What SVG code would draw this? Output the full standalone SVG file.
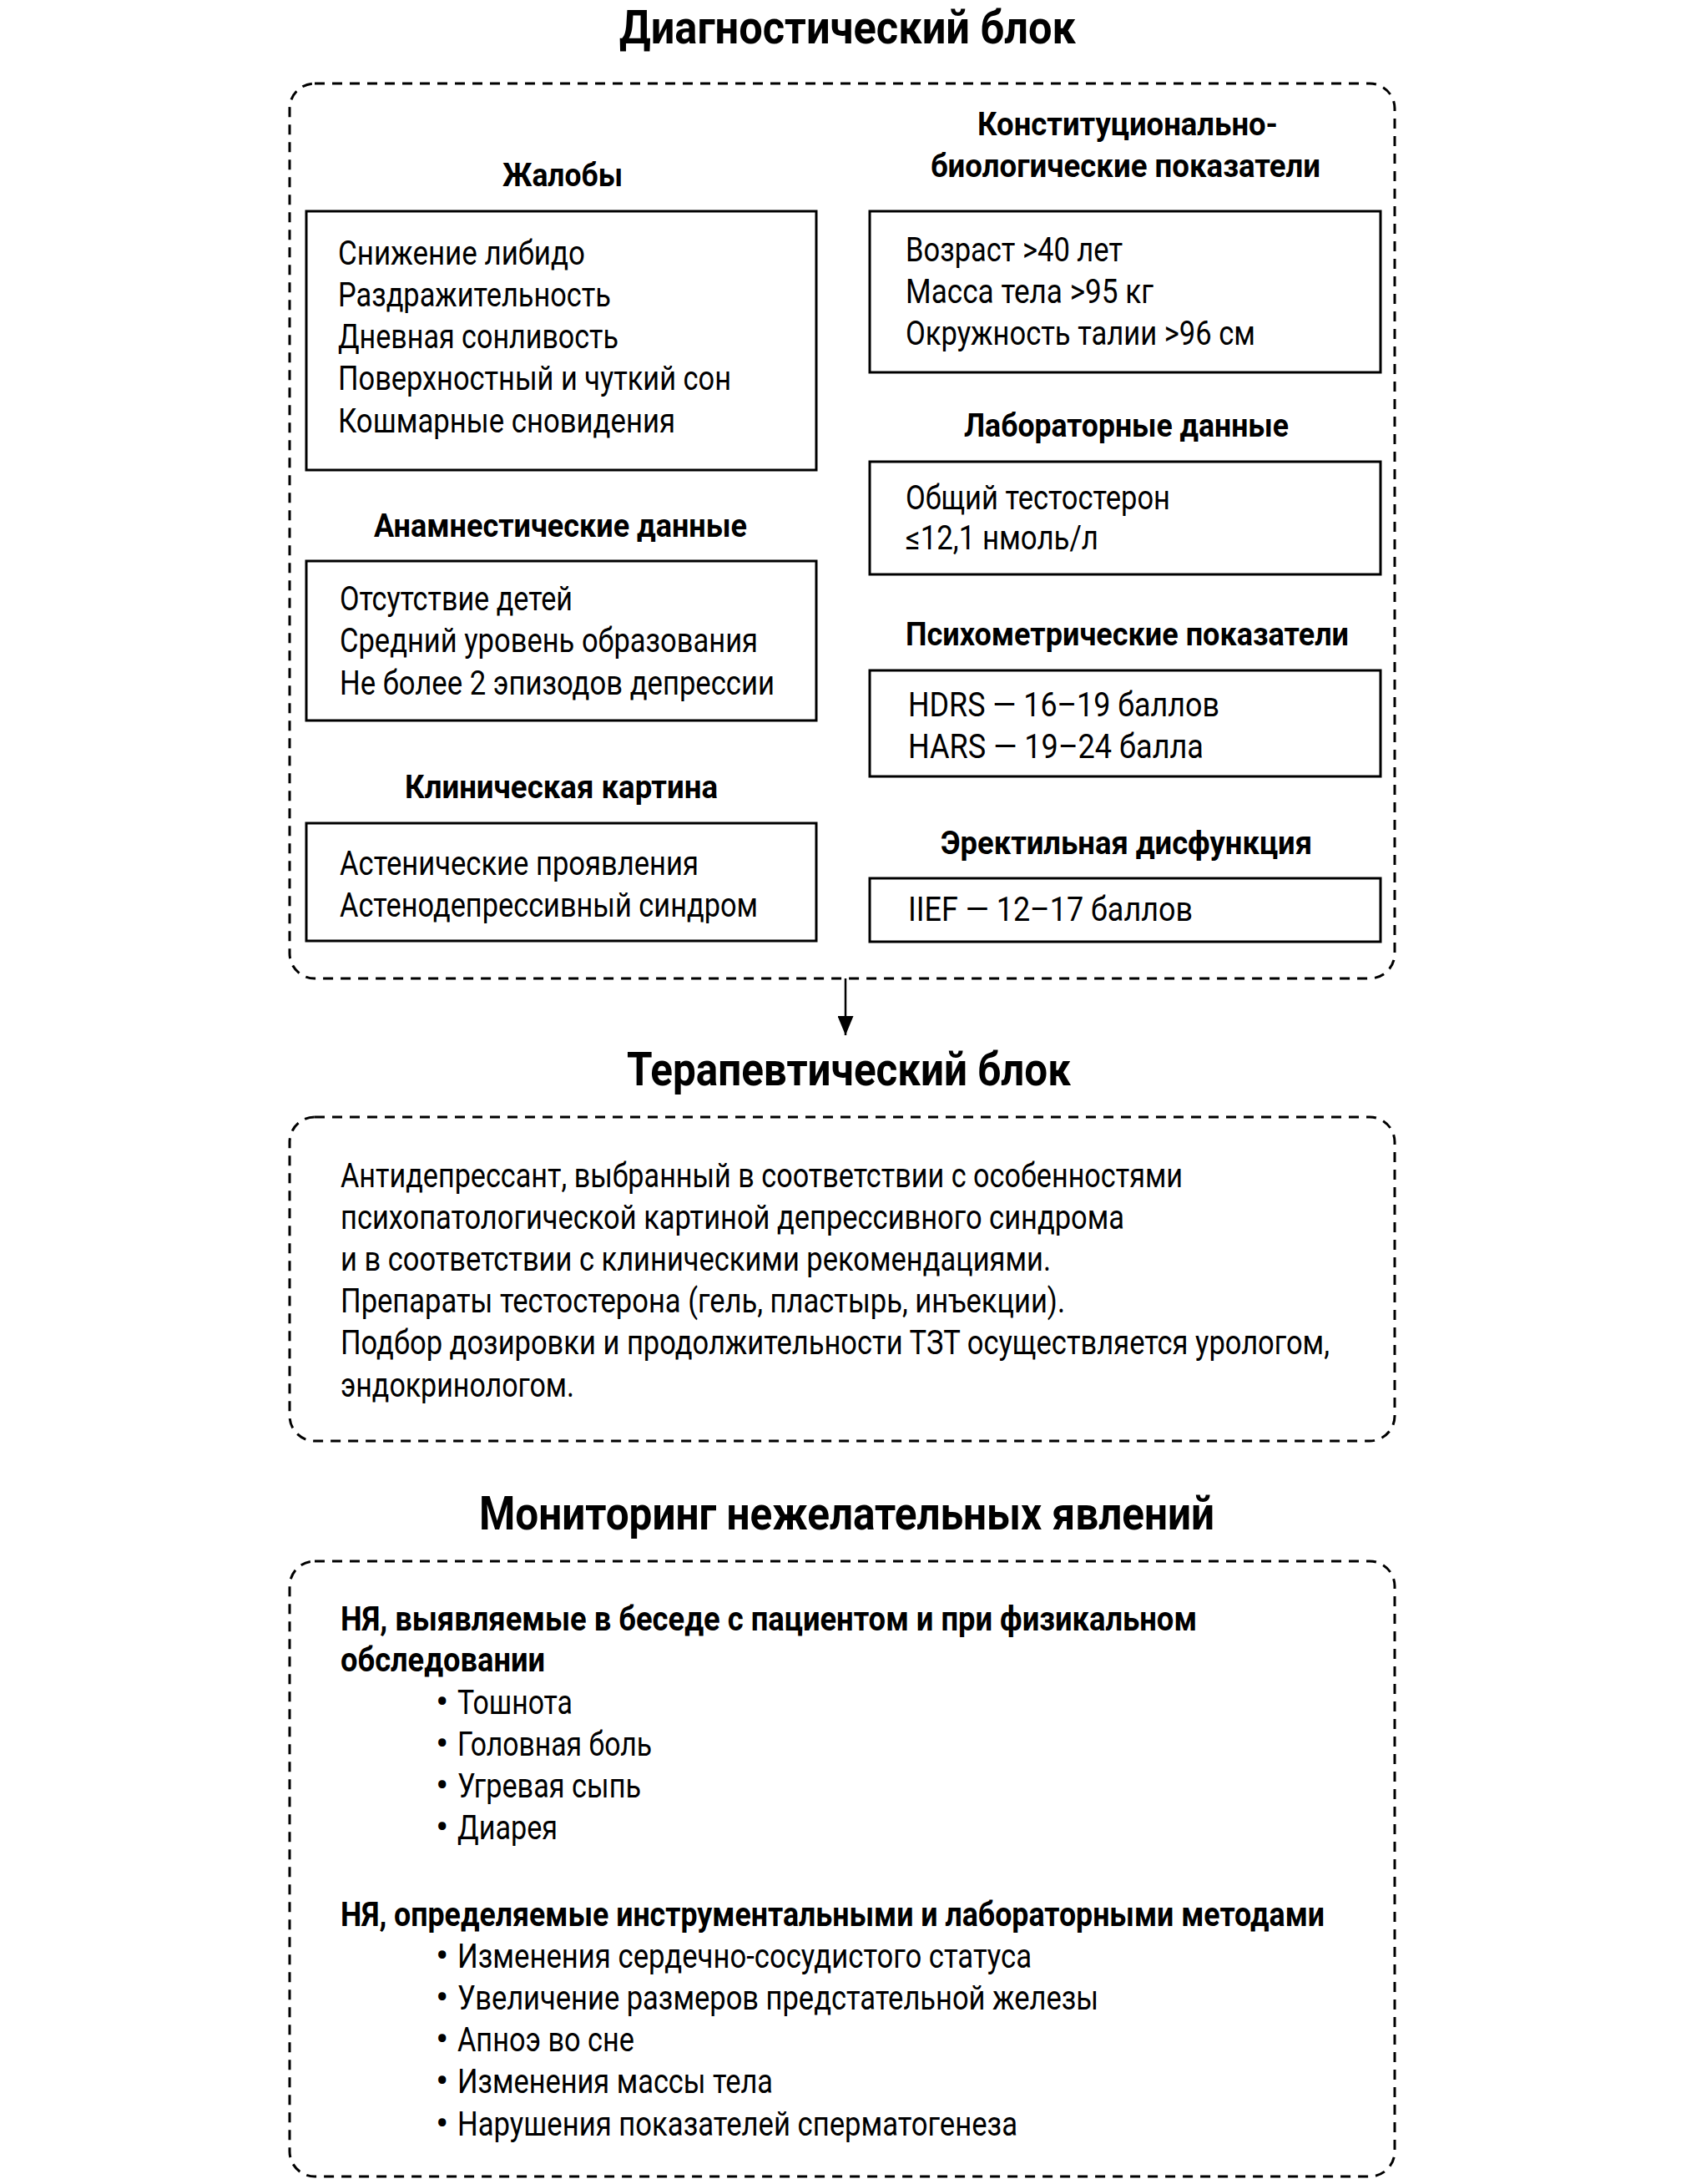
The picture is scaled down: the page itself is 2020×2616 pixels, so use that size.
<svg xmlns="http://www.w3.org/2000/svg" width="2020" height="2616" viewBox="0 0 2020 2616">
<style>
.title{font-family:Roboto,"Liberation Sans",sans-serif;font-weight:700;font-size:56px;fill:#000}
.hdr{font-family:Roboto,"Liberation Sans",sans-serif;font-weight:700;font-size:38px;fill:#000}
.hdr2{font-family:Roboto,"Liberation Sans",sans-serif;font-weight:700;font-size:40px;fill:#000}
.txt{font-family:Roboto,"Liberation Sans",sans-serif;font-weight:400;font-size:40px;fill:#000}
.bul{font-family:Roboto,"Liberation Sans",sans-serif;font-weight:400;font-size:46px;fill:#000}
.dash{fill:none;stroke:#000;stroke-width:3;stroke-dasharray:12 9}
.box{fill:none;stroke:#000;stroke-width:3}
.conn{stroke:#000;stroke-width:2.5;fill:none}
</style>
<defs>
<marker id="arr" markerWidth="23" markerHeight="19" refX="23" refY="9.5" orient="auto" markerUnits="userSpaceOnUse" viewBox="0 0 23 19">
<path d="M0,0 L23,9.5 L0,19 Z" fill="#000"/>
</marker>
</defs>

<g id="diagnostic-block">
<text class="title" x="742" y="52" textLength="547" lengthAdjust="spacingAndGlyphs">Диагностический блок</text>
<rect class="dash" x="347" y="100" width="1324" height="1072" rx="30"/>
</g>

<g id="complaints">
<text class="hdr" x="602" y="223" textLength="144" lengthAdjust="spacingAndGlyphs">Жалобы</text>
<rect class="box" x="367" y="253" width="611" height="310"/>
<text class="txt" x="405" y="317" textLength="296" lengthAdjust="spacingAndGlyphs">Снижение либидо</text>
<text class="txt" x="405" y="367" textLength="327" lengthAdjust="spacingAndGlyphs">Раздражительность</text>
<text class="txt" x="405" y="417" textLength="336" lengthAdjust="spacingAndGlyphs">Дневная сонливость</text>
<text class="txt" x="405" y="467" textLength="471" lengthAdjust="spacingAndGlyphs">Поверхностный и чуткий сон</text>
<text class="txt" x="405" y="518" textLength="404" lengthAdjust="spacingAndGlyphs">Кошмарные сновидения</text>
</g>

<g id="anamnesis">
<text class="hdr" x="448" y="643" textLength="447" lengthAdjust="spacingAndGlyphs">Анамнестические данные</text>
<rect class="box" x="367" y="672" width="611" height="191"/>
<text class="txt" x="407" y="731" textLength="279" lengthAdjust="spacingAndGlyphs">Отсутствие детей</text>
<text class="txt" x="407" y="781" textLength="501" lengthAdjust="spacingAndGlyphs">Средний уровень образования</text>
<text class="txt" x="407" y="832" textLength="521" lengthAdjust="spacingAndGlyphs">Не более 2 эпизодов депрессии</text>
</g>

<g id="clinical">
<text class="hdr" x="485" y="956" textLength="375" lengthAdjust="spacingAndGlyphs">Клиническая картина</text>
<rect class="box" x="367" y="986" width="611" height="141"/>
<text class="txt" x="407" y="1048" textLength="430" lengthAdjust="spacingAndGlyphs">Астенические проявления</text>
<text class="txt" x="407" y="1098" textLength="501" lengthAdjust="spacingAndGlyphs">Астенодепрессивный синдром</text>
</g>

<g id="constitutional">
<text class="hdr" x="1171" y="162" textLength="360" lengthAdjust="spacingAndGlyphs">Конституционально-</text>
<text class="hdr" x="1115" y="212" textLength="467" lengthAdjust="spacingAndGlyphs">биологические показатели</text>
<rect class="box" x="1042" y="253" width="612" height="193"/>
<text class="txt" x="1085" y="313" textLength="260" lengthAdjust="spacingAndGlyphs">Возраст &gt;40 лет</text>
<text class="txt" x="1085" y="363" textLength="297" lengthAdjust="spacingAndGlyphs">Масса тела &gt;95 кг</text>
<text class="txt" x="1085" y="413" textLength="419" lengthAdjust="spacingAndGlyphs">Окружность талии &gt;96 см</text>
</g>

<g id="laboratory">
<text class="hdr" x="1155" y="523" textLength="389" lengthAdjust="spacingAndGlyphs">Лабораторные данные</text>
<rect class="box" x="1042" y="553" width="612" height="135"/>
<text class="txt" x="1085" y="610" textLength="317" lengthAdjust="spacingAndGlyphs">Общий тестостерон</text>
<text class="txt" x="1085" y="658" textLength="231" lengthAdjust="spacingAndGlyphs">≤12,1 нмоль/л</text>
</g>

<g id="psychometric">
<text class="hdr" x="1085" y="773" textLength="531" lengthAdjust="spacingAndGlyphs">Психометрические показатели</text>
<rect class="box" x="1042" y="803" width="612" height="127"/>
<text class="txt" x="1088" y="858" textLength="373" lengthAdjust="spacingAndGlyphs">HDRS — 16–19 баллов</text>
<text class="txt" x="1088" y="908" textLength="354" lengthAdjust="spacingAndGlyphs">HARS — 19–24 балла</text>
</g>

<g id="erectile">
<text class="hdr" x="1127" y="1023" textLength="445" lengthAdjust="spacingAndGlyphs">Эректильная дисфункция</text>
<rect class="box" x="1042" y="1052" width="612" height="76"/>
<text class="txt" x="1088" y="1103" textLength="341" lengthAdjust="spacingAndGlyphs">IIEF — 12–17 баллов</text>
</g>

<g id="connectors">
<line class="conn" x1="1013" y1="1172" x2="1013" y2="1240" marker-end="url(#arr)"/>
</g>

<g id="therapeutic-block">
<text class="title" x="751" y="1300" textLength="532" lengthAdjust="spacingAndGlyphs">Терапевтический блок</text>
<rect class="dash" x="347" y="1338" width="1324" height="388" rx="30"/>
<text class="txt" x="408" y="1422" textLength="1009" lengthAdjust="spacingAndGlyphs">Антидепрессант, выбранный в соответствии с особенностями</text>
<text class="txt" x="408" y="1472" textLength="939" lengthAdjust="spacingAndGlyphs">психопатологической картиной депрессивного синдрома</text>
<text class="txt" x="408" y="1522" textLength="851" lengthAdjust="spacingAndGlyphs">и в соответствии с клиническими рекомендациями.</text>
<text class="txt" x="408" y="1572" textLength="868" lengthAdjust="spacingAndGlyphs">Препараты тестостерона (гель, пластырь, инъекции).</text>
<text class="txt" x="408" y="1622" textLength="1185" lengthAdjust="spacingAndGlyphs">Подбор дозировки и продолжительности ТЗТ осуществляется урологом,</text>
<text class="txt" x="408" y="1673" textLength="280" lengthAdjust="spacingAndGlyphs">эндокринологом.</text>
</g>

<g id="monitoring-block">
<text class="title" x="574" y="1832" textLength="881" lengthAdjust="spacingAndGlyphs">Мониторинг нежелательных явлений</text>
<rect class="dash" x="347" y="1870" width="1324" height="737" rx="30"/>
<text class="hdr2" x="408" y="1953" textLength="1026" lengthAdjust="spacingAndGlyphs">НЯ, выявляемые в беседе с пациентом и при физикальном</text>
<text class="hdr2" x="408" y="2002" textLength="245" lengthAdjust="spacingAndGlyphs">обследовании</text>
<text class="bul" x="522" y="2054">•</text>
<text class="txt" x="548" y="2053" textLength="138" lengthAdjust="spacingAndGlyphs">Тошнота</text>
<text class="bul" x="522" y="2104">•</text>
<text class="txt" x="548" y="2103" textLength="233" lengthAdjust="spacingAndGlyphs">Головная боль</text>
<text class="bul" x="522" y="2154">•</text>
<text class="txt" x="548" y="2153" textLength="220" lengthAdjust="spacingAndGlyphs">Угревая сыпь</text>
<text class="bul" x="522" y="2204">•</text>
<text class="txt" x="548" y="2203" textLength="120" lengthAdjust="spacingAndGlyphs">Диарея</text>
<text class="hdr2" x="408" y="2307" textLength="1179" lengthAdjust="spacingAndGlyphs">НЯ, определяемые инструментальными и лабораторными методами</text>
<text class="bul" x="522" y="2358">•</text>
<text class="txt" x="548" y="2357" textLength="688" lengthAdjust="spacingAndGlyphs">Изменения сердечно-сосудистого статуса</text>
<text class="bul" x="522" y="2408">•</text>
<text class="txt" x="548" y="2407" textLength="768" lengthAdjust="spacingAndGlyphs">Увеличение размеров предстательной железы</text>
<text class="bul" x="522" y="2458">•</text>
<text class="txt" x="548" y="2457" textLength="212" lengthAdjust="spacingAndGlyphs">Апноэ во сне</text>
<text class="bul" x="522" y="2508">•</text>
<text class="txt" x="548" y="2507" textLength="378" lengthAdjust="spacingAndGlyphs">Изменения массы тела</text>
<text class="bul" x="522" y="2559">•</text>
<text class="txt" x="548" y="2558" textLength="671" lengthAdjust="spacingAndGlyphs">Нарушения показателей сперматогенеза</text>
</g>
</svg>
